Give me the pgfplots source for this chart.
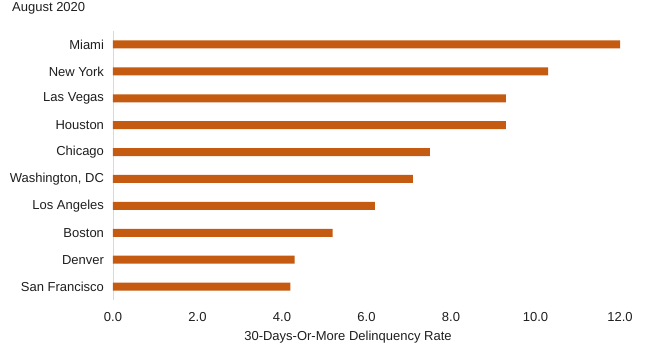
\documentclass[border=0pt]{standalone}
\usepackage{pgfplots}
\pgfplotsset{compat=1.18}
\usepackage{fontspec}
\setmainfont{Liberation Sans}
\definecolor{barc}{RGB}{197,90,17}
\definecolor{axc}{RGB}{217,217,217}
\definecolor{txt}{RGB}{30,30,30}
\begin{document}
\fontsize{13pt}{15pt}\selectfont
\begin{tikzpicture}
\path[use as bounding box] (0,0) rectangle (650pt,346pt);
\node[anchor=west,inner sep=0pt,text=txt] at (12pt,338pt) {August 2020};
\begin{axis}[
  at={(113pt,46pt)}, anchor=south west,
  scale only axis, width=507pt, height=269pt,
  xmin=0, xmax=12, ymin=-0.5, ymax=9.5,
  xbar, bar width=8pt,
  axis x line*=bottom, axis y line*=left,
  x axis line style={draw=none},
  y axis line style={draw=axc, line width=0.8pt},
  xtick={0,2,...,12},
  ytick={0,...,9},
  yticklabels={San Francisco,Denver,Boston,Los Angeles,{Washington, DC},Chicago,Houston,Las Vegas,New York,Miami},
  major tick length=0pt,
  /pgf/number format/fixed,
  /pgf/number format/fixed zerofill,
  /pgf/number format/precision=1,
  /pgf/number format/assume math mode=true,
  xticklabel style={anchor=center, yshift=-17pt, text=txt, font=\fontsize{13pt}{15pt}\selectfont},
  yticklabel style={anchor=east, xshift=-4.5pt, text=txt, font=\fontsize{13pt}{15pt}\selectfont},
  xlabel={30-Days-Or-More Delinquency Rate},
  xlabel style={at={(rel axis cs:0.4635,0)}, anchor=center, yshift=-37pt, text=txt, font=\fontsize{13pt}{15pt}\selectfont},
  clip=false,
]
\addplot[draw=none, fill=barc] coordinates {
(4.2,0) (4.3,1) (5.2,2) (6.2,3) (7.1,4) (7.5,5) (9.3,6) (9.3,7) (10.3,8) (12.0,9)
};
\end{axis}
\end{tikzpicture}
\end{document}
